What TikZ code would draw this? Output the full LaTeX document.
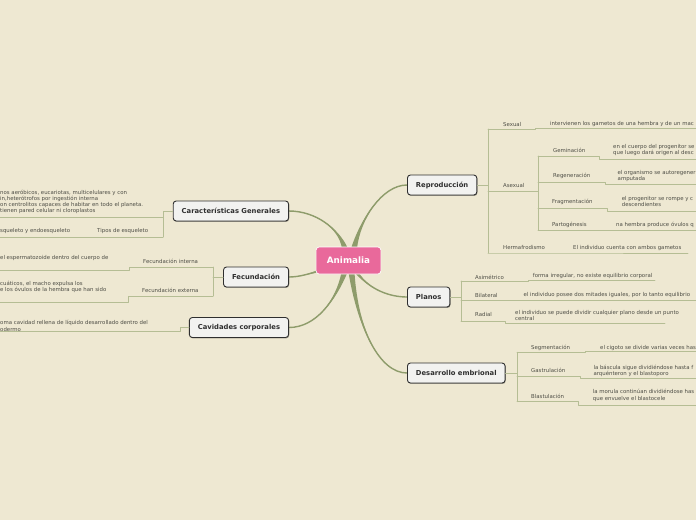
\documentclass[tikz,border=0pt]{standalone}
\usepackage{fontspec}
\setmainfont{DejaVu Sans}
\usetikzlibrary{calc,shadows,backgrounds}

\definecolor{paper}{HTML}{EEE8D2}
\definecolor{stem}{HTML}{8E9C6B}
\definecolor{twig}{HTML}{B5BD94}
\definecolor{ink}{HTML}{4E4E46}
\definecolor{rootpink}{HTML}{E9699B}
\definecolor{boxfill}{HTML}{F2F2F0}
\definecolor{boxline}{HTML}{2F2F2F}

\tikzset{
  topic/.style={draw=boxline,fill=boxfill,line width=0.9pt,rounded corners=3pt,
    minimum height=20pt,inner xsep=8.5pt,inner ysep=0pt,text=boxline,
    font=\fontsize{6.8}{8}\selectfont\bfseries,
    drop shadow={shadow xshift=0.6pt,shadow yshift=-0.9pt,opacity=0.35,fill=black}},
  rootbox/.style={fill=rootpink,draw=white,line width=0.7pt,rounded corners=3pt,
    text=white,minimum height=27pt,inner xsep=10.8pt,inner ysep=0pt,
    font=\fontsize{8.8}{10}\selectfont\bfseries},
  leaf/.style={anchor=west,inner sep=0pt,align=left,text=ink,
    font=\fontsize{5.4}{6.2}\selectfont},
  twigline/.style={draw=twig,line width=0.8pt},
}

% tapered branch: start, half width, two controls, end
\newcommand{\stembranch}[5]{%
  \fill[stem] ($#1+#2$) .. controls #3 and #4 .. #5
    .. controls #4 and #3 .. ($#1-#2$) -- cycle;
  \draw[stem,line width=1.4pt] #1 .. controls #3 and #4 .. #5;}

\begin{document}
\begin{tikzpicture}[x=1pt,y=-1pt,line cap=round,line join=round]
  \useasboundingbox (0,0) rectangle (696,520);
  \begin{scope}[on background layer]
    \fill[paper] (0,0) rectangle (696,520);
  \end{scope}
  \clip (0,0) rectangle (696,520);

  % Central topic and the six main topics.
  \node[rootbox] (ani) at (348.5,260.5) {Animalia};
  \node[topic,anchor=east] (car) at (289,211) {Características Generales};
  \node[topic,anchor=east] (fec) at (289,277) {Fecundación};
  \node[topic,anchor=east] (cav) at (289,327.5) {Cavidades corporales};
  \node[topic,anchor=west] (rep) at (407,185) {Reproducción};
  \node[topic,anchor=west] (pla) at (407,297) {Planos};
  \node[topic,anchor=west] (des) at (407,373) {Desarrollo embrional};

  % Thick tapered branches, behind the boxes.
  \coordinate (s-car) at ($(ani.north)+(-3.5,2)$);
  \coordinate (s-rep) at ($(ani.north)+(5.5,2)$);
  \coordinate (s-fec) at ($(ani.south west)+(2,-3)$);
  \coordinate (s-cav) at ($(ani.south)+(-4,-2)$);
  \coordinate (s-des) at ($(ani.south)+(3,-2)$);
  \coordinate (s-pla) at ($(ani.south)+(8,-2)$);
  \begin{scope}[on background layer]
    \stembranch{(s-car)}{(3,0)}{(339,228)}{(315,211)}{(car.east)}
    \stembranch{(s-rep)}{(3,0)}{(360,220)}{(382,185)}{(rep.west)}
    \stembranch{(s-fec)}{(0,1.2)}{(308,274)}{(299,277)}{(fec.east)}
    \stembranch{(s-cav)}{(3,0)}{(336,300)}{(316,327.5)}{(cav.east)}
    \stembranch{(s-des)}{(3,0)}{(358,330)}{(380,373)}{(des.west)}
    \stembranch{(s-pla)}{(2,0)}{(370,290)}{(390,297)}{(pla.west)}
  \end{scope}

  % Características Generales
  \draw[twigline] (car.west) -- (163,211) -- (163,237);
  \draw[twigline] (0,217) -- (163,217);
  \draw[twigline] (0,237) -- (163,237);
  \node[leaf] (car-a) at (0,202) {nos aeróbicos, eucariotas, multicelulares y con\\in,heterótrofos por ingestión interna\\on centrolitos capaces de habitar en todo el planeta.\\tienen pared celular ni cloroplastos};
  \node[leaf] (tip) at (97,231.5) {Tipos de esqueleto};
  \node[leaf] (tip-a) at (0,231.5) {squeleto y endoesqueleto};

  % Fecundación
  \draw[twigline] (fec.west) -- (213,277);
  \draw[twigline] (213,267) -- (213,296);
  \draw[twigline] (0,270) -- (129,270) -- (129,267) -- (213,267);
  \draw[twigline] (0,302.5) -- (128,302.5) -- (128,296) -- (213,296);
  \node[leaf] (fin) at (143,261) {Fecundación interna};
  \node[leaf] (fin-a) at (0,258) {el espermatozoide dentro del cuerpo de};
  \node[leaf] (fex) at (142,290) {Fecundación externa};
  \node[leaf] (fex-a) at (0,286.7) {cuáticos, el macho expulsa los\\e los óvulos de la hembra que han sido};

  % Cavidades corporales
  \draw[twigline] (cav.west) -- (180,327.5) -- (180,331) -- (0,331);
  \node[leaf] (cav-a) at (0,325.8) {oma cavidad rellena de líquido desarrollado dentro del\\odermo};

  % Reproducción
  \draw[twigline] (rep.east) -- (488,185);
  \draw[twigline] (488,129) -- (488,253);
  \draw[twigline] (488,129) -- (535,129) -- (535,128) -- (696,128);
  \draw[twigline] (488,191) -- (538,191);
  \draw[twigline] (538,156) -- (538,230);
  \draw[twigline] (538,156) -- (599,156) -- (599,159) -- (696,159);
  \draw[twigline] (538,182) -- (605,182) -- (605,184) -- (696,184);
  \draw[twigline] (538,208) -- (607,208) -- (607,211) -- (696,211);
  \draw[twigline] (538,230) -- (696,230);
  \draw[twigline] (488,253) -- (560,253) -- (688,253);
  \foreach \n/\x/\y/\t in {
      sex/503/124/Sexual,
      sex-a/550/124/intervienen los gametos de una hembra y de un mac,
      ase/503/185/Asexual,
      gem/553/150/Geminación,
      gem-a/613/149.7/{en el cuerpo del progenitor se\\que luego dará origen al desc},
      reg/553/176/Regeneración,
      reg-a/617.5/176/{el organismo se autoregener\\amputada},
      fra/552/202.3/Fragmentación,
      fra-a/621.7/201.3/{el progenitor se rompe y c\\descendientes},
      par/552/225/Partogénesis,
      par-a/616/225/na hembra produce óvulos q,
      her/503/247.7/Hermafrodismo,
      her-a/573/247.7/El individuo cuenta con ambos gametos}
    \node[leaf] (\n) at (\x,\y) {\t};

  % Planos
  \draw[twigline] (pla.east) -- (461,297);
  \draw[twigline] (461,281) -- (461,321.3);
  \draw[twigline] (461,281) -- (528,281) -- (528,280.3) -- (655,280.3);
  \draw[twigline] (461,300.7) -- (696,300.7);
  \draw[twigline] (461,321.3) -- (505,321.3) -- (505,323.3) -- (665,323.3);
  \foreach \n/\x/\y/\t in {
      asi/475/277/Asimétrico,
      asi-a/532.7/276/{forma irregular, no existe equilibrio corporal},
      bil/475/295.3/Bilateral,
      bil-a/523.3/294.7/{el individuo posee dos mitades iguales, por lo tanto equilibrio},
      rad/475/314.3/Radial,
      rad-a/515/315.6/{el individuo se puede dividir cualquier plano desde un punto\\central}}
    \node[leaf] (\n) at (\x,\y) {\t};

  % Desarrollo embrional
  \draw[twigline] (des.east) -- (517,373);
  \draw[twigline] (517,352.3) -- (517,401.7);
  \draw[twigline] (517,352.3) -- (585,352.3) -- (585,351.7) -- (696,351.7);
  \draw[twigline] (517,376) -- (580,376) -- (580,378.3) -- (696,378.3);
  \draw[twigline] (517,401.7) -- (578,401.7) -- (578,405.7) -- (696,405.7);
  \foreach \n/\x/\y/\t in {
      seg/531/347.7/Segmentación,
      seg-a/600/347.7/el cigoto se divide varias veces has,
      gas/531/370/Gastrulación,
      gas-a/593.3/370.5/{la báscula sigue dividiéndose hasta f\\arquénteron y el blastoporo},
      bla/531/396/Blastulación,
      bla-a/592.7/395.3/{la morula continúan dividiéndose has\\que envuelve el blastocele}}
    \node[leaf] (\n) at (\x,\y) {\t};
\end{tikzpicture}
\end{document}
